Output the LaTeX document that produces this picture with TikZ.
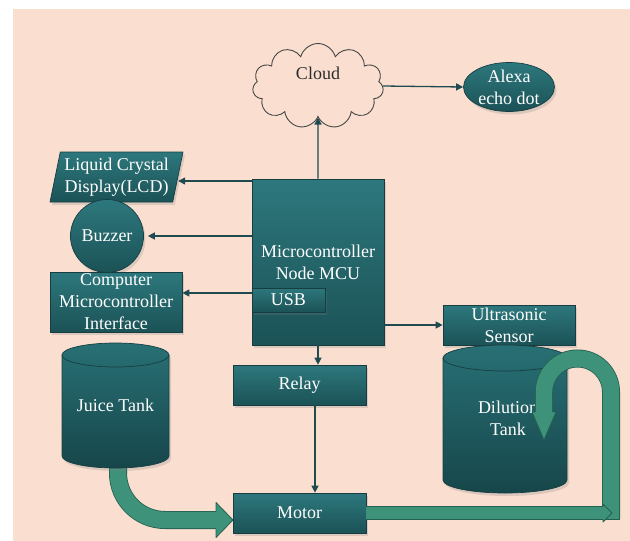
\documentclass[tikz,border=0pt]{standalone}
\usepackage{fontspec}
\setmainfont{Liberation Serif}
\usetikzlibrary{shapes.geometric,shapes.symbols,arrows.meta,shadows}
\definecolor{bg}{RGB}{250,223,208}
\definecolor{boxtop}{RGB}{45,120,125}
\definecolor{boxbot}{RGB}{27,82,86}
\definecolor{boxline}{RGB}{22,62,66}
\definecolor{linec}{RGB}{30,74,80}
\definecolor{flowfill}{RGB}{62,146,122}
\definecolor{flowline}{RGB}{36,96,80}
\definecolor{cloudline}{RGB}{70,70,70}
\definecolor{cloudtxt}{RGB}{45,45,45}
\definecolor{tanktop}{RGB}{40,112,117}
\definecolor{tankbot}{RGB}{22,70,74}
\tikzset{
  lbl/.style={font=\fontsize{18}{22}\selectfont, align=center, text=white},
  shad/.style={drop shadow={opacity=0.25, shadow xshift=2pt, shadow yshift=-3pt}},
  box/.style={lbl, draw=boxline, line width=0.7pt, top color=boxtop, bottom color=boxbot, inner sep=0pt, shad},
  conn/.style={draw=linec, line width=1.3pt, -{Triangle[length=7pt,width=7pt]}},
  pipe/.style={draw=flowline, line width=#1, postaction={draw=flowfill, line width=#1-1.6}},
  headfill/.style={fill=flowfill},
  headline/.style={draw=flowline, line width=0.8pt, line join=round},
  tankbody/.style={top color=tanktop, bottom color=tankbot, draw=boxline, line width=0.7pt, shad}
}
\begin{document}
\begin{tikzpicture}[x=1pt, y=-1pt]
\fill[white] (0,0) rectangle (630,541);
\useasboundingbox (0,0) rectangle (630,541);
\fill[bg] (13,9) rectangle (630,541);

% cloud and alexa
\node[cloud, cloud puffs=11, cloud ignores aspect, draw=cloudline, line width=0.9pt,
      minimum width=131, minimum height=85, inner sep=0pt,
      label={[lbl, text=cloudtxt, yshift=13pt]center:Cloud}] (cloud) at (318,86) {};
\node[box, ellipse, minimum width=91, minimum height=49, inner ysep=-4pt] (alexa) at (509,87) {Alexa\\echo dot};

% main controller
\node[box, minimum width=132, minimum height=166] (mcu) at (318,262) {Microcontroller\\Node MCU};
\node[box, minimum width=73, minimum height=24] (usb) at (288.5,300) {USB};

% left column
\node[box, trapezium, trapezium left angle=76, trapezium right angle=104, trapezium stretches=true,
      minimum width=133, minimum height=50] (lcd) at (116.5,177) {Liquid Crystal\\Display(LCD)};
\node[box, circle, minimum size=73] (buzzer) at (107,236) {Buzzer};
\node[box, minimum width=132, minimum height=60, inner ysep=-3pt] (iface) at (116,302) {Computer\\Microcontroller\\Interface};

% relay, motor, sensor
\node[box, minimum width=133, minimum height=40] (relay) at (299.5,385) {Relay};
\node[box, minimum width=132, minimum height=40, inner ysep=-2pt] (us) at (509,325) {Ultrasonic\\Sensor};

% juice tank flow to motor (under tank)
\coordinate (jout) at (118,462);
\draw[pipe=18] (jout) -- (118,473) arc[start angle=180, end angle=90, radius=47] -- (217,520);
\fill[headfill] (216,502.5) -- (233,520) -- (216,537.5) -- cycle;
\draw[headline] (216,511) -- (216,502.5) -- (233,520) -- (216,537.5) -- (216,529);

% juice tank
\path[tankbody] (62,355) -- (62,456) arc[start angle=180, end angle=0, x radius=53.5, y radius=12]
   -- (169,355) arc[start angle=0, end angle=-180, x radius=53.5, y radius=12] -- cycle;
\draw[boxline, line width=0.7pt] (62,355) arc[start angle=180, end angle=0, x radius=53.5, y radius=12];
\node[lbl] (juice) at (115.5,405) {Juice Tank};

% dilution tank
\path[tankbody] (443,358) -- (443,480) arc[start angle=180, end angle=0, x radius=62, y radius=13]
   -- (567,358) arc[start angle=0, end angle=-180, x radius=62, y radius=13] -- cycle;
\draw[boxline, line width=0.7pt] (443,358) arc[start angle=180, end angle=0, x radius=62, y radius=13];
\node[lbl] (dil) at (508,418) {Dilution\\Tank};

% U-shaped return arrow into dilution tank
\draw[pipe=18] (611,519) -- (611,392) arc[start angle=0, end angle=-180, radius=33.5] -- (544,413);
\draw[headline] (602,519) -- (620,519);
\fill[headfill] (532,412) -- (544,440) -- (556,412) -- cycle;
\draw[headline] (535,412) -- (532,412) -- (544,440) -- (556,412) -- (553,412);

% motor
\node[box, minimum width=133, minimum height=40] (motor) at (299.5,513) {Motor};

% motor outflow
\draw[pipe=13.5] (motor.east) -- (motor.east -| 604,0);
\fill[headfill] (603,504) -- (612,513) -- (603,522) -- cycle;
\draw[headline] (603,507) -- (603,504) -- (612,513) -- (603,522) -- (603,519);

% connectors
\draw[conn] (mcu.north) -- (cloud.south);
\draw[conn] (cloud.east) -- (alexa.west);
\draw[conn] (mcu.west |- 0,181) -- (lcd.east |- 0,181);
\draw[conn] (mcu.west |- buzzer.east) -- ([xshift=4pt]buzzer.east);
\draw[conn] (usb.west |- 0,293) -- (iface.east |- 0,293);
\draw[conn] (mcu.east |- us.west) -- (us.west);
\draw[conn] (mcu.south) -- (mcu.south |- relay.north);
\draw[conn] (relay.south -| 315,0) -- (motor.north -| 315,0);
\end{tikzpicture}
\end{document}
